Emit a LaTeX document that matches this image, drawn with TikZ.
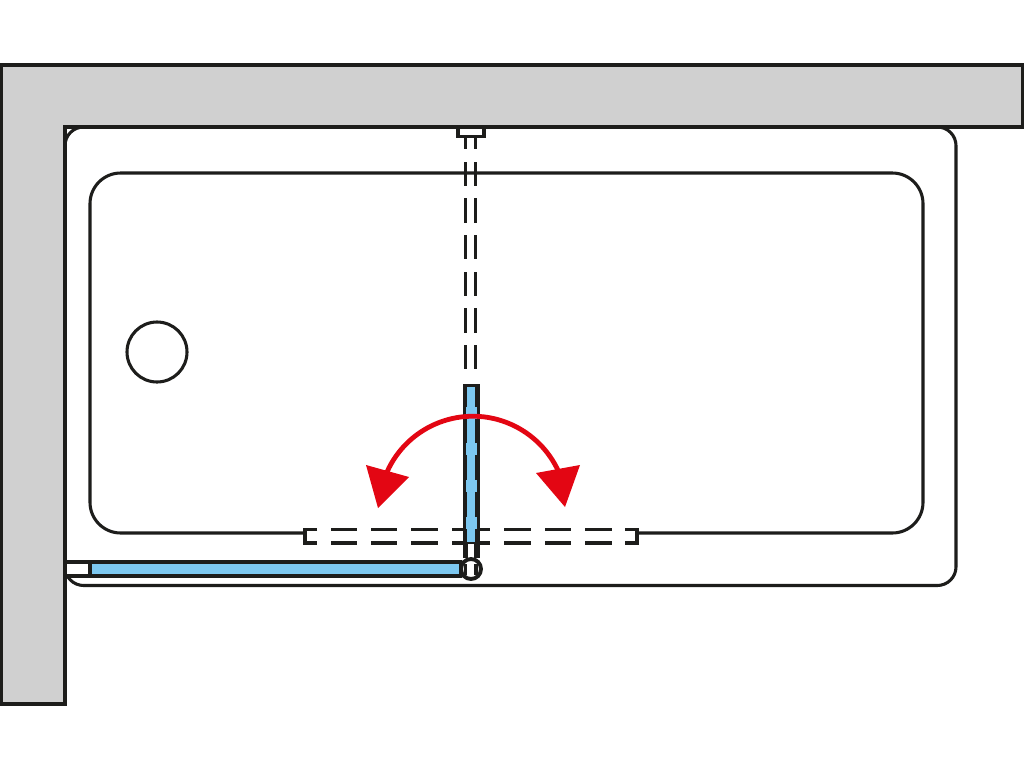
\documentclass[tikz,border=0pt]{standalone}
\definecolor{wallgray}{RGB}{208,208,208}
\definecolor{glass}{RGB}{125,200,240}
\definecolor{swing}{RGB}{227,6,19}
\definecolor{ink}{RGB}{29,29,27}
\tikzset{
  wall/.style={fill=wallgray,draw=ink,line width=2.3pt,line join=miter},
  outline/.style={draw=ink,line width=2.3pt},
  dash line/.style={draw=ink,line width=2.3pt},
  swing arc/.style={draw=swing,line width=3.6pt},
  swing head/.style={fill=swing}
}
\begin{document}
\begin{tikzpicture}[x=0.75pt,y=-0.75pt]
\useasboundingbox (0,0) rectangle (1024,768);
\fill[white] (0,0) rectangle (1024,768);
% wall
\draw[wall] (1,65) -- (1023,65) -- (1023,127) -- (65,127) -- (65,704) -- (1,704) -- cycle;
% tub outer
\draw[outline,rounded corners=14pt] (65,127) rectangle (956,585.5);
% tub inner
\draw[outline,rounded corners=23pt] (305,533) -- (90,533) -- (90,173) -- (923,173) -- (923,533) -- (637,533);
% drain
\draw[outline] (157,352) circle[radius=30];
% open positions, horizontal
\draw[dash line] (317,529.5) -- (305,529.5) -- (305,543) -- (317,543);
\draw[dash line] (625,529.5) -- (637,529.5) -- (637,543) -- (625,543);
\foreach \a/\b in {331/357,371/397,411/438,452/490,504/531,545/571,585/612}{
  \draw[dash line] (\a,529.5) -- (\b,529.5);
  \draw[dash line] (\a,543) -- (\b,543);
}
% wall bracket and open position, vertical
\draw[outline] (458,127) -- (458,136.5) -- (484,136.5) -- (484,127);
\foreach \a/\b in {138/149,162/186,198/223,235/259,272/296,308/333,345/369}{
  \draw[dash line] (465.7,\a) -- (465.7,\b);
  \draw[dash line] (475.7,\a) -- (475.7,\b);
}
% fixed panel
\fill[glass] (90,562) rectangle (462,576);
\draw[outline,fill=white] (65,562) rectangle (90,576);
\draw[outline] (90,562) -- (462,562) (90,576) -- (462,576);
\draw[line width=3pt,draw=ink] (461,561) -- (461,577);
% door panel
\fill[ink] (463,383.5) rectangle (479.5,558);
\fill[glass] (467.3,387) rectangle (475,542);
\foreach \a in {407,443,480,517}{\fill[glass] (465.7,\a) rectangle (476.7,\a+12);}
\fill[white] (468,544) rectangle (474,558);
% hinge
\draw[draw=ink,line width=2.9pt,fill=white] (471,569) circle[radius=10];
\draw[dash line] (465.5,564) -- (465.5,575) (476,564) -- (476,575);
% swing arrow
\draw[swing arc] (387,472) arc[start angle=204,end angle=336,radius=94];
\fill[swing head] (366,465) -- (409,477) -- (378,508) -- cycle;
\fill[swing head] (580,465) -- (536,473) -- (565,507) -- cycle;
\end{tikzpicture}
\end{document}
